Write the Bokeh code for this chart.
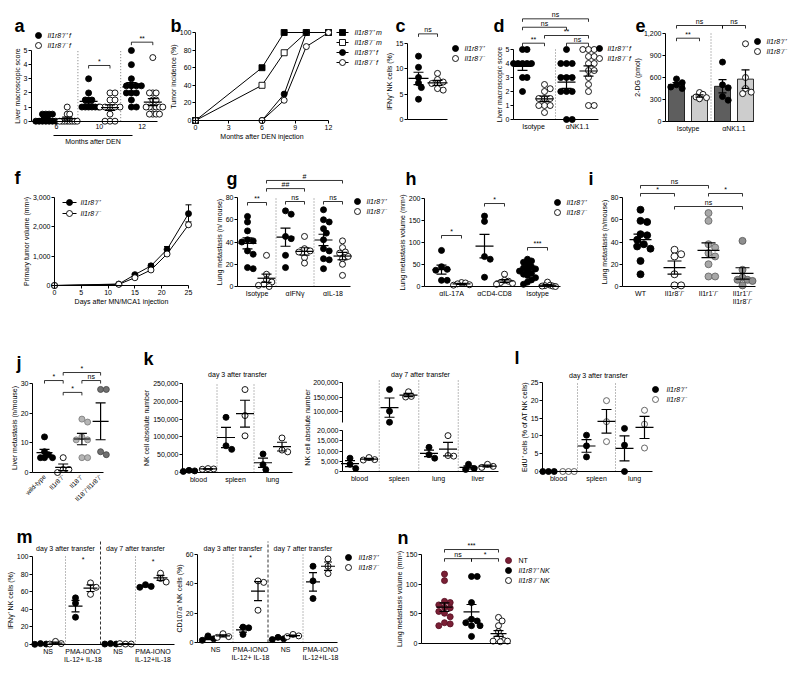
import math
import copy
import numpy as np
from bokeh.plotting import figure
from bokeh.layouts import row, column
from bokeh.models import Range1d, FixedTicker, NumeralTickFormatter, LinearAxis
from bokeh.core.properties import value
from bokeh.embed import file_html
from bokeh.resources import INLINE

FONT = "Liberation Sans"
PP = "\u207a/\u207a"
MM = "\u207b/\u207b"
WT = "Il1r8" + PP
KO = "Il1r8" + MM

# ---------------- data ----------------
a_months = ["6", "10", "12"]
a_wt = [[0.5, 0.5, 0.5, 0.5, 0, 0, 0, 0, 0, 0, 0],
        [3, 2, 1.5, 1.5, 1.5, 1, 1, 1, 1, 1, 1],
        [5, 4, 3, 2.5, 2.5, 2.5, 2.5, 2, 2, 2, 1.5, 1, 1]]
a_ko = [[1, 0.5, 0.5, 0, 0, 0, 0, 0, 0, 0, 0],
        [2, 2, 1.5, 1.5, 1, 1, 1, 1, 1, 0.5, 0, 0, 0],
        [4.5, 2, 2, 2, 1.5, 1.5, 1, 1, 1, 1, 1, 1, 0.5, 0.5, 0.5, 0.5]]

b_months = [0, 6, 8, 10, 12]
b_wt_m = [0, 60, 100, 100, 100]
b_ko_m = [0, 40, 77, 100, 100]
b_wt_f = [0, 0, 30, 100, 100]
b_ko_f = [0, 0, 23, 84, 100]

c_wt = [12.5, 10.3, 8.3, 7.2, 6.3, 4.0]
c_ko = [9.1, 7.9, 7.4, 7.1, 6.1, 5.8]

d_groups = ["Isotype", "\u03b1NK1.1"]
d_wt = [[5, 5, 4, 4, 4, 4, 4, 3, 3, 2], [5, 4, 4, 4, 3, 3, 3, 2, 2, 2, 0, 0]]
d_ko = [[2.5, 2.2, 2, 1.5, 1.5, 1.5, 1, 1, 1, 0.5],
        [5, 5, 5, 4.5, 4.5, 4, 4, 3.5, 3.5, 3, 2.5, 2, 1, 1]]

e_groups = ["Isotype", "\u03b1NK1.1"]
e_wt = [[580, 530, 500, 470, 450], [810, 500, 460, 340, 290]]
e_ko = [[395, 370, 335, 325, 310], [1060, 600, 450, 400, 380]]

f_days = [0, 12, 15, 18, 21, 25]
f_wt = [0, 50, 370, 670, 1230, 2450]
f_wt_sem = [0, 20, 40, 60, 100, 300]
f_ko = [0, 40, 265, 530, 1075, 2070]
f_ko_sem = [0, 15, 30, 40, 50, 100]

g_groups = ["Isotype", "\u03b1IFN\u03b3", "\u03b1IL-18"]
g_wt = [[63, 58, 50, 42, 41, 40, 32, 29, 17, 16], [68, 65, 45, 43, 28, 17],
        [69, 60, 58, 52, 48, 42, 34, 32, 25, 24, 16]]
g_ko = [[28, 11, 6, 4, 2, 1, 0], [45, 34, 32, 31, 26, 21], [41, 35, 31, 30, 27, 25, 20, 10]]

h_groups = ["\u03b1IL-17A", "\u03b1CD4-CD8", "Isotype"]
h_wt = [[82, 45, 39, 37, 14, 14], [160, 148, 68, 62, 21],
        [62, 58, 55, 50, 45, 42, 40, 38, 35, 30, 28, 25, 20, 15, 10, 5]]
h_ko = [[9, 8, 6, 4, 3], [28, 14, 12, 9, 7, 5], [10, 3, 2, 1, 1, 0]]

i_groups = ["WT", "Il1r8" + MM, "Il1r1" + MM, "Il1r1" + MM + "\nIl1r8" + MM]
i_vals = [[69, 59, 58, 47, 46, 42, 38, 36, 34, 23, 11], [33, 29, 27, 11, 1, 1],
          [66, 59, 38, 35, 30, 27, 20, 9, 9], [41, 15, 8, 6, 6, 5, 1]]

j_groups = ["wild-type", "Il1r8" + MM, "Il18" + MM, "Il18" + MM + "Il1r8" + MM]
j_vals = [[12, 7, 6, 5, 5, 5], [5, 1, 1, 0], [18, 17, 12, 11, 11, 5, 5], [28, 28, 7, 6]]

k_sites3 = ["blood", "spleen", "lung"]
k1_wt = [[6000, 4500, 3000], [155000, 75000, 65000], [52000, 22000, 8000]]
k1_ko = [[11000, 10000, 9000], [233000, 160000, 103000], [97000, 63000, 58000]]
k_sites7 = ["blood", "spleen", "lung", "liver"]
k2_wt = [[6500, 3500, 1500], [176000, 101000, 63000], [11800, 8200, 6500], [3500, 1500, 1000]]
k2_ko = [[6800, 5800, 5600], [168000, 152000, 150000], [17500, 7800, 7500], [3500, 2500, 2000]]

l_wt = [[0, 0, 0], [10.2, 7.2, 4.1], [12.1, 7.4, 0]]
l_ko = [[0, 0, 0], [19.9, 14.0, 8.4], [17.2, 13.3, 6.6]]

m_conds = ["NS", "PMA-IONO\nIL-12+ IL-18", "NS", "PMA-IONO\nIL-12+IL-18"]
m1_wt = [[1, 0.5, 0.2], [53, 47, 31], [1, 0.5, 0.5], [68, 66, 65]]
m1_ko = [[3.5, 1, 0.5], [70, 65, 57], [0.5, 0.5, 1], [81, 75, 71]]
m2_wt = [[4.5, 2.5, 1.5], [10.5, 10, 5.5], [3.5, 2.5, 2], [52, 42, 30]]
m2_ko = [[6, 4, 3.5], [42, 41, 22], [5.5, 4.5, 4], [57, 52, 47]]

n_groups = ["NT", "Il1r8" + PP + " NK", "Il1r8" + MM + " NK"]
n_vals = [[117, 106, 71, 69, 65, 61, 60, 54, 51, 45, 35, 33, 30],
          [113, 113, 69, 41, 38, 35, 30, 30, 12],
          [44, 38, 30, 20, 12, 8, 5, 4, 4, 3]]


# ---------------- helpers ----------------
def style_axis(ax, fs="7px"):
    ax.axis_line_color = "black"
    ax.axis_line_width = 1
    ax.major_tick_line_color = "black"
    ax.major_tick_line_width = 1
    ax.major_tick_out = 3
    ax.major_tick_in = 0
    ax.minor_tick_line_color = None
    ax.major_label_text_font = FONT
    ax.major_label_text_font_size = fs
    ax.major_label_text_color = "black"
    ax.major_label_standoff = 1
    ax.axis_label_text_font = FONT
    ax.axis_label_text_font_size = "7px"
    ax.axis_label_text_font_style = "normal"
    ax.axis_label_text_color = "black"
    ax.axis_label_standoff = 0


def lin(v0, p0, v1, p1):
    return (lambda px: v0 + (px - p0) * (v1 - v0) / (p1 - p0)), abs((p1 - p0) / (v1 - v0))


def swarm(vals, sy, d, limit):
    """Deterministic beeswarm offsets (px); the spread is compressed to +-limit."""
    placed, offs = [], []
    cands = [0.0]
    for j in range(1, 30):
        cands += [j * d / 2, -j * d / 2]
    for v in vals:
        yp = v * sy
        for c in cands:
            if all((c - px) ** 2 + (yp - py) ** 2 >= (0.92 * d) ** 2 for px, py in placed):
                break
        placed.append((c, yp))
        offs.append(c)
    far = max(abs(c) for c in offs) if offs else 0
    if far > limit:
        offs = [c * limit / far for c in offs]
    return offs


class Panel:
    """One figure whose frame fills the whole box; axes are pinned with fixed_location."""

    def __init__(self, box, rows, xmap, ymap, axis, spread=9):
        self.x0, self.x1 = box
        self.r0, self.r1 = rows
        self.fx, self.sx = lin(*xmap)
        self.fy, self.sy = lin(*ymap)
        self.ax_px, self.ay_px = axis
        self.spread = spread
        self.kw = {}
        p = figure(width=self.x1 - self.x0, height=self.r1 - self.r0,
                   x_range=Range1d(self.fx(self.x0), self.fx(self.x1)),
                   y_range=Range1d(self.fy(self.r1), self.fy(self.r0)),
                   min_border_left=0, min_border_right=0, min_border_top=0,
                   min_border_bottom=0, output_backend="svg", toolbar_location=None)
        p.outline_line_color = None
        p.xgrid.visible = False
        p.ygrid.visible = False
        for ax in list(p.xaxis) + list(p.yaxis):
            style_axis(ax)
        self.p = p

    def twin(self, ymap, name):
        fy, sy = lin(*ymap)
        self.p.extra_y_ranges = {name: Range1d(fy(self.r1), fy(self.r0))}
        t = copy.copy(self)
        t.fy, t.sy = fy, sy
        t.kw = {"y_range_name": name}
        return t

    def yax(self, ticks, label=None, fmt=False, bottom=None, axis=None):
        ticks = list(ticks)
        ax = axis if axis is not None else self.p.yaxis[0]
        ax.fixed_location = self.fx(self.ax_px)
        ax.ticker = FixedTicker(ticks=ticks)
        ax.bounds = (self.fy(self.ay_px) if bottom is None else bottom, ticks[-1])
        if label:
            ax.axis_label = label
        if fmt:
            ax.formatter = NumeralTickFormatter(format="0,0")
        return ax

    def xax(self, right_px, ticks=(), labels=None, label=None, marks=False):
        ticks = list(ticks)
        ax = self.p.xaxis[0]
        ax.fixed_location = self.fy(self.ay_px)
        ax.bounds = (self.fx(self.ax_px), self.fx(right_px))
        ax.ticker = FixedTicker(ticks=ticks)
        if labels is not None:
            ax.major_label_overrides = {t: s for t, s in zip(ticks, labels)}
        if not marks:
            ax.major_tick_out = 0
            ax.major_label_standoff = 3
        if label:
            ax.axis_label = label
        return ax

    def sep(self, xv, y0, y1, dash="1 2", color="#555555"):
        self.p.segment(x0=[xv], y0=[y0], x1=[xv], y1=[y1], line_color=color,
                       line_width=0.8, line_dash=dash, **self.kw)

    def text(self, x_px, y_px, s, size="7px", align="center", baseline="middle",
             angle=0.0, style="normal"):
        self.p.text(x=[self.fx(x_px)], y=[self.fy(y_px)], text=[s], text_font=value(FONT),
                    text_font_size=size, text_align=align, text_baseline=baseline,
                    text_font_style=style, text_color="black", angle=angle, **self.kw)

    def vtext(self, xv, yv, s, size="7px"):
        self.p.text(x=[xv], y=[yv], text=[s], text_font=value(FONT), text_font_size=size,
                    text_align="center", text_baseline="middle", text_color="black", **self.kw)

    def bracket(self, xa, xb, yv, s, drop=3.0):
        d = drop / self.sy
        self.p.multi_line(xs=[[xa, xa, xb, xb]], ys=[[yv - d, yv, yv, yv - d]],
                          line_color="black", line_width=0.8, **self.kw)
        self.p.text(x=[(xa + xb) / 2], y=[yv + 0.6 / self.sy], text=[s], text_font=value(FONT),
                    text_font_size="7px", text_align="center", text_baseline="bottom",
                    text_color="black", **self.kw)

    def letter(self, ch, x_px, base_px):
        self.text(x_px, base_px, ch, size="18px", align="left", baseline="alphabetic",
                  style="bold")

    def legend(self, items, mx, my, tx, pitch=10, line_half=0, italic=True):
        # items: (label, marker, fill, line_color)
        for n, (lab, mk, fill, lc) in enumerate(items):
            yy = my + n * pitch
            if line_half:
                self.p.segment(x0=[self.fx(mx - line_half)], y0=[self.fy(yy)],
                               x1=[self.fx(mx + line_half)], y1=[self.fy(yy)],
                               line_color="black", line_width=1)
            self.p.scatter([self.fx(mx)], [self.fy(yy)], marker=mk, size=6, fill_color=fill,
                           line_color=lc, line_width=0.9)
            st = "italic" if (italic is True or (isinstance(italic, (list, tuple)) and italic[n])) else "normal"
            self.text(tx, yy, lab, align="left", style=st)

    def dots(self, xc, vals, fill="black", line="black", size=6, marker="circle"):
        offs = swarm(vals, self.sy, size * 0.95, self.spread)
        xs = [xc + o / self.sx for o in offs]
        return self.p.scatter(xs, vals, size=size, marker=marker, fill_color=fill,
                              line_color=line, line_width=0.9, **self.kw)

    def msem(self, xc, vals, hw=9, cw=5, lw=1.2):
        v = np.asarray(vals, float)
        m = v.mean()
        s = v.std(ddof=1) / np.sqrt(len(v))
        x0, y0, x1, y1 = [], [], [], []
        if hw:
            x0.append(xc - hw / self.sx); x1.append(xc + hw / self.sx); y0.append(m); y1.append(m)
        x0 += [xc, xc - cw / self.sx, xc - cw / self.sx]
        x1 += [xc, xc + cw / self.sx, xc + cw / self.sx]
        y0 += [m - s, m + s, m - s]
        y1 += [m + s, m + s, m - s]
        self.p.segment(x0=x0, y0=y0, x1=x1, y1=y1, line_color="black", line_width=lw, **self.kw)


W = 798
R1 = (0, 165)
R2 = (165, 335)
R3 = (335, 508)
R4 = (508, 673)
FILLED = ("circle", "black", "black")
OPEN = ("circle", "white", "black")

# ---------------- a ----------------
A = Panel((0, 168), R1, (0, 56, 1, 98.8), (0, 120.7, 5, 50), (31, 120.7), spread=10)
o = 10.7 / A.sx
for k in (0.5, 1.5):
    A.sep(k, 0, 5)
for k in range(3):
    A.dots(k - o, a_wt[k], "black")
    A.dots(k + o, a_ko[k], "white")
for k in range(3):
    A.msem(k - o, a_wt[k]); A.msem(k + o, a_ko[k])
A.yax(range(6), "Liver macroscopic score")
A.xax(157, [0, 1, 2], a_months)
ax2 = LinearAxis(fixed_location=A.fy(135), bounds=(A.fx(53), A.fx(132)),
                 ticker=FixedTicker(ticks=[]), axis_label="Months after DEN")
style_axis(ax2)
ax2.major_tick_out = 0
ax2.axis_label_standoff = 2
A.p.add_layout(ax2, "below")
A.bracket(1 - o, 1 + o, 3.94, "*")
A.bracket(2 - o, 2 + o, 5.59, "**")
A.legend([(WT + " f",) + FILLED, (KO + " f",) + OPEN], 38, 35, 47)
A.letter("a", 14, 25)

# ---------------- b ----------------
Bp = Panel((168, 385), R1, (0, 195, 12, 328), (0, 120, 100, 32), (195, 120))
for vals, mk, fill in ((b_wt_m, "square", "black"), (b_ko_m, "square", "white"),
                       (b_wt_f, "circle", "black"), (b_ko_f, "circle", "white")):
    Bp.p.line(b_months, vals, line_color="black", line_width=1)
    Bp.p.scatter(b_months, vals, marker=mk, size=6, fill_color=fill, line_color="black",
                 line_width=0.9)
Bp.yax(range(0, 101, 20), "Tumor incidence (%)")
Bp.xax(328, [0, 3, 6, 9, 12], None, "Months after DEN injection", marks=True)
Bp.legend([(WT + " m", "square", "black", "black"), (KO + " m", "square", "white", "black"),
           (WT + " f",) + FILLED, (KO + " f",) + OPEN], 342, 32, 354, line_half=6)
Bp.letter("b", 170, 25)

# ---------------- c ----------------
C = Panel((385, 490), R1, (0, 427.5, 1, 467.5), (0, 119, 15, 43), (407, 119))
o = 9.5 / C.sx
C.dots(-o, c_wt, "black")
C.dots(o, c_ko, "white")
C.msem(-o, c_wt, hw=10); C.msem(o, c_ko, hw=10)
C.yax([0, 5, 10, 15], "IFN\u03b3\u207a NK cells (%)")
C.xax(447)
C.bracket(-o, o, 16.9, "ns")
C.legend([(WT,) + FILLED, (KO,) + OPEN], 455, 48, 464)
C.letter("c", 395, 25)

# ---------------- d ----------------
D = Panel((490, 633), R1, (0, 533, 1, 577), (0, 119, 5, 49), (513, 119))
o = 11 / D.sx
D.sep(0.5, 0, 5)
for k in range(2):
    D.dots(k - o, d_wt[k], "black")
    D.dots(k + o, d_ko[k], "white")
for k in range(2):
    D.msem(k - o, d_wt[k]); D.msem(k + o, d_ko[k])
D.yax(range(6), "Liver macroscopic score")
D.xax(598, [0, 1], d_groups)
D.bracket(-o, 1 + o, 7.19, "ns")
D.bracket(-o, 1 - o, 6.59, "ns")
D.bracket(-o, o, 5.45, "**")
D.bracket(o, 1 + o, 6.0, "**")
D.bracket(1 - o, 1 + o, 5.45, "ns")
D.legend([(WT + " f",) + FILLED, (KO + " f",) + OPEN], 599, 48, 607)
D.letter("d", 493, 25)

# ---------------- e ----------------
E = Panel((633, W), R1, (0, 687.5, 1, 733.5), (0, 121, 1200, 33), (665, 121), spread=7)
o = 11.5 / E.sx
bw = 16 / E.sx
E.sep(0.5, 0, 1200)
E.p.vbar(x=[k - o for k in range(2)], top=[float(np.mean(v)) for v in e_wt], width=bw,
         bottom=0, fill_color="#5e5e5e", line_color="black", line_width=0.8)
E.p.vbar(x=[k + o for k in range(2)], top=[float(np.mean(v)) for v in e_ko], width=bw,
         bottom=0, fill_color="#cdcdcd", line_color="black", line_width=0.8)
for k in range(2):
    E.dots(k - o, e_wt[k], "black")
    E.dots(k + o, e_ko[k], "white")
for k in range(2):
    E.msem(k - o, e_wt[k], hw=0, cw=4); E.msem(k + o, e_ko[k], hw=0, cw=4)
E.yax([0, 300, 600, 900, 1200], "2-DG (pmol)", fmt=True)
E.xax(753, [0, 1], e_groups)
E.bracket(-o, o, 1136, "**")
E.bracket(-o, 1 - o, 1309, "ns")
E.bracket(1 - o, 1 + o, 1309, "ns")
E.legend([(WT,) + FILLED, (KO,) + OPEN], 757, 41, 766)
E.letter("e", 635, 25)

# ---------------- f ----------------
F = Panel((0, 214), R2, (0, 54, 25, 188), (0, 285, 3000, 197), (54, 285))
cap = 3 / F.sx
for vals, sem, fill in ((f_wt, f_wt_sem, "black"), (f_ko, f_ko_sem, "white")):
    lo = [v - s for v, s in zip(vals, sem)]
    hi = [v + s for v, s in zip(vals, sem)]
    F.p.segment(x0=f_days, y0=lo, x1=f_days, y1=hi, line_color="black", line_width=1)
    F.p.segment(x0=[d - cap for d in f_days], y0=hi, x1=[d + cap for d in f_days], y1=hi,
                line_color="black", line_width=1)
    F.p.line(f_days, vals, line_color="black", line_width=1)
    F.p.scatter(f_days, vals, size=6, fill_color=fill, line_color="black", line_width=0.9)
F.yax([0, 1000, 2000, 3000], "Primary tumor volume (mm\u00b3)", fmt=True)
F.xax(188, [0, 5, 10, 15, 20, 25], None, "Days after MN/MCA1 injection", marks=True)
F.legend([(WT,) + FILLED, (KO,) + OPEN], 69, 202, 80, pitch=11, line_half=7)
F.letter("f", 14, 177)

# ---------------- g ----------------
G = Panel((214, 398), R2, (0, 256.5, 1, 294.5), (0, 286, 80, 197), (237, 286), spread=8)
o = 9.5 / G.sx
for k in (0.5, 1.5):
    G.sep(k, 0, 80)
for k in range(3):
    G.dots(k - o, g_wt[k], "black")
    G.dots(k + o, g_ko[k], "white")
for k in range(3):
    G.msem(k - o, g_wt[k]); G.msem(k + o, g_ko[k])
G.yax(range(0, 81, 20), "Lung metastasis (n/ mouse)")
G.xax(350, [0, 1, 2], g_groups)
G.bracket(-o, o, 75.5, "**")
G.bracket(o, 1 + o, 88, "##")
G.bracket(o, 2 + o, 95.3, "#")
G.bracket(1 - o, 1 + o, 76.4, "ns")
G.bracket(2 - o, 2 + o, 76.4, "ns")
G.legend([(WT,) + FILLED, (KO,) + OPEN], 357, 201, 366)
G.letter("g", 226, 178)

# ---------------- h ----------------
H = Panel((398, 598), R2, (0, 451, 1, 494), (0, 286, 200, 198), (424, 286), spread=8)
o = 10 / H.sx
for k in range(3):
    H.dots(k - o, h_wt[k], "black")
    H.dots(k + o, h_ko[k], "white")
for k in range(3):
    H.msem(k - o, h_wt[k]); H.msem(k + o, h_ko[k])
H.yax(range(0, 201, 50), "Lung metastasis volume (mm\u00b3)")
H.xax(560, [0, 1, 2], h_groups)
H.bracket(-o, o, 115.9, "*")
H.bracket(1 - o, 1 + o, 188.6, "*")
H.bracket(2 - o, 2 + o, 88.6, "***")
H.legend([(WT,) + FILLED, (KO,) + OPEN], 557, 202, 566)
H.letter("h", 405, 178)
H.letter("i", 588, 178)

# ---------------- i ----------------
I = Panel((598, W), R2, (0, 640, 1, 674), (0, 286, 80, 197), (622, 286), spread=10)
i_fill = ["black", "white", "#a8a8a8", "#8f8f8f"]
i_line = ["black", "black", "#6a6a6a", "#5a5a5a"]
for k in range(4):
    I.dots(k, i_vals[k], i_fill[k], i_line[k], size=7)
for k in range(4):
    I.msem(k, i_vals[k], hw=11, cw=7)
I.yax(range(0, 81, 20), "Lung metastasis (n/mouse)")
I.xax(755, [0, 1, 2, 3], i_groups)
I.bracket(0, 2, 90.8, "ns")
I.bracket(0, 1, 83.6, "*")
I.bracket(1, 3, 71.9, "ns")
I.bracket(2, 3, 83.6, "*")

# ---------------- j ----------------
J = Panel((0, 138), R3, (0, 44, 1, 62.7), (0, 472, 30, 383), (32, 472), spread=8)
j_fill = ["black", "white", "#b5b5b5", "#707070"]
j_line = ["black", "black", "#808080", "#4a4a4a"]
for k in range(4):
    J.dots(k, j_vals[k], j_fill[k], j_line[k])
for k in range(4):
    J.msem(k, j_vals[k], hw=8, cw=5)
J.yax([0, 10, 20, 30], "Liver metastasis (n/mouse)")
jx = J.xax(103, [0, 1, 2, 3], j_groups)
jx.major_label_orientation = math.pi / 4
jx.major_label_text_font_size = "6.5px"
J.bracket(0, 1, 31, "*")
J.bracket(1, 3, 33.7, "*")
J.bracket(1, 2, 27, "*")
J.bracket(2, 3, 31, "ns")
J.letter("j", 16, 362)

# ---------------- k (day 3) ----------------
K1 = Panel((138, 300), R3, (0, 198, 1, 235), (0, 472, 250000, 383), (182, 472), spread=7)
o = 9.5 / K1.sx
for k in (0.5, 1.5):
    K1.sep(k, 0, 250000)
for k in range(3):
    K1.dots(k - o, k1_wt[k], "black")
    K1.dots(k + o, k1_ko[k], "white")
for k in range(3):
    K1.msem(k - o, k1_wt[k]); K1.msem(k + o, k1_ko[k])
K1.yax(range(0, 250001, 50000), "NK cell absolute number", fmt=True)
K1.xax(292, [0, 1, 2], k_sites3)
K1.text(237, 374, "day 3 after transfer")
K1.letter("k", 143, 358)

# ---------------- k (day 7), broken y axis: two ranges in one figure ----------------
K2 = Panel((300, 505), R3, (0, 359, 1, 398.5), (0, 471, 20000, 430), (342, 471), spread=7)
K2t = K2.twin((100000, 411, 200000, 382), "top")
o = 9.5 / K2.sx
for k in (0.5, 1.5, 2.5):
    K2.sep(k, 0, K2.fy(378))
K2t.dots(1 - o, k2_wt[1], "black")
K2t.dots(1 + o, k2_ko[1], "white")
K2t.msem(1 - o, k2_wt[1]); K2t.msem(1 + o, k2_ko[1])
for k in (0, 2, 3):
    K2.dots(k - o, k2_wt[k], "black")
    K2.dots(k + o, k2_ko[k], "white")
for k in (0, 2, 3):
    K2.msem(k - o, k2_wt[k]); K2.msem(k + o, k2_ko[k])
K2.yax([0, 5000, 10000, 15000, 20000], fmt=True)
top_axis = LinearAxis(y_range_name="top")
style_axis(top_axis)
K2.p.add_layout(top_axis, "left")
K2t.yax([100000, 150000, 200000], fmt=True, bottom=62000, axis=top_axis)
K2.xax(498, [0, 1, 2, 3], k_sites7)
K2.text(420, 374, "day 7 after transfer")
K2.text(307, 427, "NK cell absolute number", angle=math.pi / 2)

# ---------------- l ----------------
Lp = Panel((505, W), R3, (0, 558, 1, 596), (0, 471, 25, 382), (542, 471), spread=7)
o = 10 / Lp.sx
for k in (0.5, 1.5):
    Lp.sep(k, 0, 25)
for k in range(3):
    Lp.dots(k - o, l_wt[k], "black")
    Lp.dots(k + o, l_ko[k], "white", "#555555")
for k in range(3):
    Lp.msem(k - o, l_wt[k]); Lp.msem(k + o, l_ko[k])
Lp.yax(range(0, 26, 5), "EdU\u207a cells (% of AT NK cells)")
Lp.xax(652, [0, 1, 2], k_sites3)
Lp.text(598, 375, "day 3 after transfer")
Lp.legend([(WT,) + FILLED, (KO, "circle", "white", "#555555")], 655, 389, 666)
Lp.letter("l", 514, 357)


# ---------------- m ----------------
def m_panel(box, xmap, ymap, axis, wt, ko, ticks, ylab, stars, right_px):
    P = Panel(box, R4, xmap, ymap, axis, spread=6)
    o = 7.5 / P.sx
    top = ticks[-1]
    P.sep(0.5, 0, top)
    P.sep(1.5, 0, P.fy(541), dash="3 2", color="black")
    P.sep(2.5, 0, top)
    for k in range(4):
        P.dots(k - o, wt[k], "black")
        P.dots(k + o, ko[k], "white")
    for k in range(4):
        P.msem(k - o, wt[k], hw=7, cw=4); P.msem(k + o, ko[k], hw=7, cw=4)
    P.yax(ticks, ylab)
    P.xax(right_px, [0, 1, 2, 3], m_conds)
    for xv, yv in stars:
        P.vtext(xv, yv, "*")
    step = xmap[3] - xmap[1]
    P.text(xmap[1] + 0.5 * step, 548, "day 3 after transfer")
    P.text(xmap[1] + 2.5 * step, 548, "day 7 after transfer")
    return P


M1 = m_panel((0, 175), (0, 47.5, 1, 82.5), (0, 644, 100, 556), (32, 644),
             m1_wt, m1_ko, [0, 20, 40, 60, 80, 100], "IFN\u03b3\u207a NK cells (%)",
             [(1, 97), (3, 94)], 174)
M1.letter("m", 16, 536)
M2 = m_panel((175, 393), (0, 215, 1, 250), (0, 642, 60, 554), (197, 642),
             m2_wt, m2_ko, [0, 20, 40, 60], "CD107a\u207a NK cells (%)", [(1, 58)], 337)
M2.legend([(WT,) + FILLED, (KO,) + OPEN], 348, 557, 358)

# ---------------- n ----------------
N = Panel((393, W), R4, (0, 444, 1, 471), (0, 643, 150, 554), (421, 643), spread=9)
n_fill = ["#7a1f35", "black", "white"]
n_line = ["#5a1226", "black", "black"]
for k in range(3):
    N.dots(k, n_vals[k], n_fill[k], n_line[k])
for k in range(3):
    N.msem(k, n_vals[k], hw=8, cw=5)
N.yax([0, 50, 100, 150], "Lung metastasis volume (mm\u00b3)")
N.xax(510)
N.bracket(0, 2, 158.4, "***")
N.bracket(0, 1, 143, "ns")
N.bracket(1, 2, 143, "*")
N.legend([(n_groups[k], "circle", n_fill[k], n_line[k]) for k in range(3)], 508, 560, 518,
         italic=[False, True, True])
N.letter("n", 397, 537)

lay = column(
    row(A.p, Bp.p, C.p, D.p, E.p),
    row(F.p, G.p, H.p, I.p),
    row(J.p, K1.p, K2.p, Lp.p),
    row(M1.p, M2.p, N.p),
)

open("out.html", "w").write(file_html(lay, INLINE))
